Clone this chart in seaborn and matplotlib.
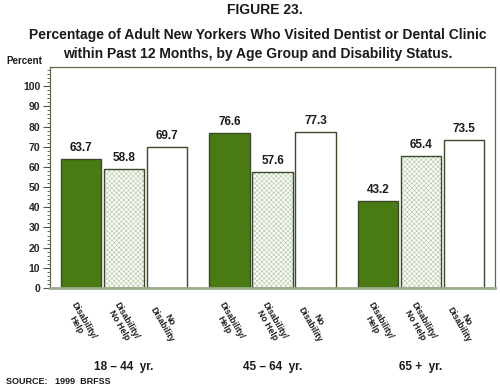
import matplotlib
matplotlib.use("Agg")
import matplotlib.pyplot as plt
import seaborn as sns
import pandas as pd
from matplotlib.ticker import MultipleLocator

age_groups = ["18 \u2013 44  yr.", "45 \u2013 64  yr.", "65 +  yr."]
statuses = ["Disability/\nHelp", "Disability/\nNo Help", "No\nDisability"]
values = {
    "Disability/\nHelp": [63.7, 76.6, 43.2],
    "Disability/\nNo Help": [58.8, 57.6, 65.4],
    "No\nDisability": [69.7, 77.3, 73.5],
}

rows = []
for s in statuses:
    for g, v in zip(age_groups, values[s]):
        rows.append({"group": g, "status": s, "value": v})
df = pd.DataFrame(rows)

sns.set_theme(style="white")
plt.rcParams["font.family"] = ["Liberation Sans", "DejaVu Sans"]
plt.rcParams["font.weight"] = "bold"
plt.rcParams["hatch.linewidth"] = 0.5

fig = plt.figure(figsize=(5, 3.88), dpi=100)
ax = fig.add_axes([0.1, 0.2577, 0.89, 0.5696])

green = "#4a7a14"
edge = "#3a4a2a"
palette = {statuses[0]: green, statuses[1]: "white", statuses[2]: "white"}
sns.barplot(data=df, x="group", y="value", hue="status", order=age_groups,
            hue_order=statuses, palette=palette, width=0.87, gap=0.06,
            edgecolor=edge, linewidth=1.0, legend=False, ax=ax, saturation=1)

for i, cont in enumerate(ax.containers):
    for p in cont:
        if i == 1:
            p.set_hatch("xxxxxxx")
            p.set_edgecolor(edge)
            p._hatch_color = matplotlib.colors.to_rgba("#b8ceaa")
        x = p.get_x() + p.get_width() / 2
        h = p.get_height()
        ax.text(x, h + 2.5, f"{h:.1f}", ha="center", va="bottom",
                fontsize=8.5, fontweight="bold", color="#1a1a1a")
        ax.annotate(statuses[i], xy=(x, 0), xycoords="data",
                    xytext=(-1, -9), textcoords="offset points",
                    ha="center", va="top", rotation=-60,
                    fontsize=6.2, fontweight="bold", color="#1a1a1a",
                    linespacing=1.0)

for j, g in enumerate(age_groups):
    ax.annotate(g, xy=(j, 0), xycoords="data", xytext=(0, -57),
                textcoords="offset points", ha="center", va="center",
                fontsize=8.5, fontweight="bold", color="#1a1a1a")

ax.set_xlim(-0.5, 2.5)
ax.set_ylim(0, 109.5)
ax.set_xticks([])
ax.yaxis.set_major_locator(MultipleLocator(10))
ax.yaxis.set_minor_locator(MultipleLocator(2))
ax.tick_params(axis="y", which="major", direction="out", length=5, width=0.8,
               color="#555555", labelsize=7.5, left=True, pad=2)
ax.tick_params(axis="y", which="minor", direction="out", length=2.5, width=0.6,
               color="#555555", left=True)
for lab in ax.get_yticklabels():
    lab.set_fontweight("bold")
ax.set_xlabel("")
ax.set_ylabel("")
for sp in ax.spines.values():
    sp.set_color("#5a6a4a")
    sp.set_linewidth(0.9)
ax.spines["bottom"].set_color("#9aaa8a")
ax.spines["bottom"].set_linewidth(2)

fig.text(0.53, 0.975, "FIGURE 23.", ha="center", va="center",
         fontsize=10, fontweight="bold", color="#1a1a1a")
fig.text(0.515, 0.911, "Percentage of Adult New Yorkers Who Visited Dentist or Dental Clinic",
         ha="center", va="center", fontsize=10, fontweight="bold", color="#1a1a1a")
fig.text(0.515, 0.862, "within Past 12 Months, by Age Group and Disability Status.",
         ha="center", va="center", fontsize=10, fontweight="bold", color="#1a1a1a")
fig.text(0.012, 0.842, "Percent", ha="left", va="center",
         fontsize=7, fontweight="bold", color="#1a1a1a")
fig.text(0.012, 0.016, "SOURCE:   1999  BRFSS", ha="left", va="center",
         fontsize=6.5, fontweight="bold", color="#1a1a1a")

fig.savefig("out.png", dpi=100, facecolor="white")
